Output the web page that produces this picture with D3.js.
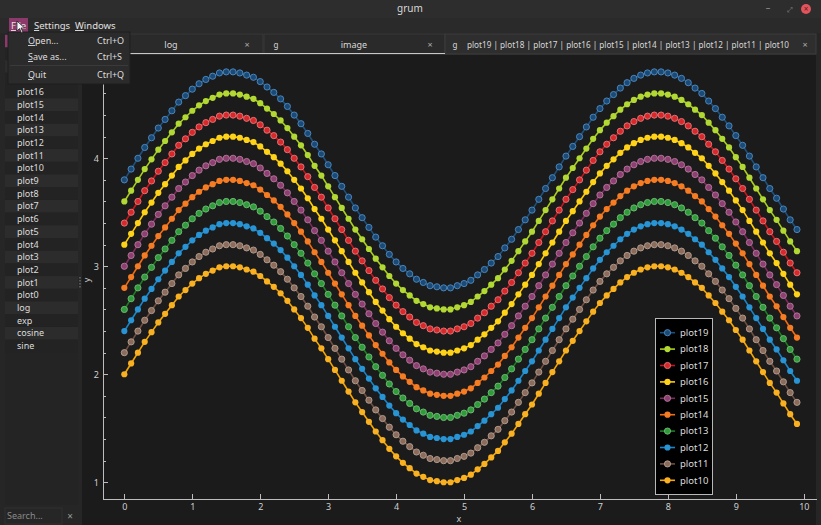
<!DOCTYPE html>
<html lang="en">
<head>
	<meta charset="utf-8">
	<title>grum</title>
	<style type="text/css">
		body {
			margin: 0;
			background: #262626;
			overflow: hidden;
		}
		svg text {
			font-family: "Noto Sans", sans-serif;
		}
		.axis path,
		.axis line {
			stroke: #bdbdbd;
			shape-rendering: crispEdges;
		}
		.axis text {
			font-size: 9px;
			fill: #d0d0d0;
		}
	</style>
</head>
<body>
	<script src="https://cdn.jsdelivr.net/npm/d3@7"></script>
	<script type="text/javascript">

		//Data
		var xValues = [0, 0.1, 0.2, 0.3, 0.4, 0.5, 0.6, 0.7, 0.8, 0.9,
			1, 1.1, 1.2, 1.3, 1.4, 1.5, 1.6, 1.7, 1.8, 1.9,
			2, 2.1, 2.2, 2.3, 2.4, 2.5, 2.6, 2.7, 2.8, 2.9,
			3, 3.1, 3.2, 3.3, 3.4, 3.5, 3.6, 3.7, 3.8, 3.9,
			4, 4.1, 4.2, 4.3, 4.4, 4.5, 4.6, 4.7, 4.8, 4.9,
			5, 5.1, 5.2, 5.3, 5.4, 5.5, 5.6, 5.7, 5.8, 5.9,
			6, 6.1, 6.2, 6.3, 6.4, 6.5, 6.6, 6.7, 6.8, 6.9,
			7, 7.1, 7.2, 7.3, 7.4, 7.5, 7.6, 7.7, 7.8, 7.9,
			8, 8.1, 8.2, 8.3, 8.4, 8.5, 8.6, 8.7, 8.8, 8.9,
			9, 9.1, 9.2, 9.3, 9.4, 9.5, 9.6, 9.7, 9.8, 9.9];

		//plot10 (lowest curve)
		var plot10 = [2.00, 2.10, 2.20, 2.30, 2.39, 2.48, 2.56, 2.64, 2.72, 2.78,
			2.84, 2.89, 2.93, 2.96, 2.99, 3.00, 3.00, 2.99, 2.97, 2.95,
			2.91, 2.86, 2.81, 2.75, 2.68, 2.60, 2.52, 2.43, 2.33, 2.24,
			2.14, 2.04, 1.94, 1.84, 1.74, 1.65, 1.56, 1.47, 1.39, 1.31,
			1.24, 1.18, 1.13, 1.08, 1.05, 1.02, 1.01, 1.00, 1.00, 1.02,
			1.04, 1.07, 1.12, 1.17, 1.23, 1.29, 1.37, 1.45, 1.54, 1.63,
			1.72, 1.82, 1.92, 2.02, 2.12, 2.22, 2.31, 2.40, 2.49, 2.58,
			2.66, 2.73, 2.79, 2.85, 2.90, 2.94, 2.97, 2.99, 3.00, 3.00,
			2.99, 2.97, 2.94, 2.90, 2.85, 2.80, 2.73, 2.66, 2.58, 2.50,
			2.41, 2.32, 2.22, 2.12, 2.02, 1.92, 1.83, 1.73, 1.63, 1.54];

		//Each curve sits above plot10 by this much
		var seriesNames = ["plot19", "plot18", "plot17", "plot16", "plot15",
			"plot14", "plot13", "plot12", "plot11", "plot10"];
		var seriesShift = [1.8, 1.6, 1.4, 1.2, 1.0, 0.8, 0.6, 0.4, 0.2, 0];

		var lineColors   = ["#1d4f7c", "#a9cf1d", "#c4161c", "#ffcc00", "#7b2a5d",
			"#f26a12", "#1b7d22", "#1a84c6", "#6f4f41", "#f5a600"];
		var markerColors = ["#1b4a76", "#b2d833", "#d8282b", "#ffd21a", "#8e3f71",
			"#f67c24", "#2f9b3b", "#2894d4", "#8b6b5b", "#f9b122"];
		var markerStroke = ["#4f8cc4", null, "#e57a7a", null, "#b67a9c",
			null, "#74bb78", null, "#b6a092", null];

		var xTicks = [0, 1, 2, 3, 4, 5, 6, 7, 8, 9, 10];
		var yTicks = [1, 2, 3, 4];
		var yMinorTicks = [1.2, 1.4, 1.6, 1.8, 2.2, 2.4, 2.6, 2.8, 3.2, 3.4, 3.6, 3.8, 4.2, 4.4, 4.6, 4.8];

		//Sidebar entries below the open menu
		var sidebarItems = ["plot16", "plot15", "plot14", "plot13", "plot12", "plot11", "plot10",
			"plot9", "plot8", "plot7", "plot6", "plot5", "plot4", "plot3", "plot2", "plot1",
			"plot0", "log", "exp", "cosine", "sine"];

		var w = 821;
		var h = 525;

		var svg = d3.select("body")
					.append("svg")
					.attr("width", w)
					.attr("height", h);

		svg.append("rect").attr("width", w).attr("height", h).attr("fill", "#262626");

		//Title bar
		svg.append("rect").attr("width", w).attr("height", 18).attr("fill", "#2d2d2d");
		svg.append("text").attr("x", 410).attr("y", 12).attr("text-anchor", "middle")
			.attr("font-size", "10px").attr("fill", "#d8d8d8").text("grum");
		svg.append("text").attr("x", 768).attr("y", 11).attr("text-anchor", "middle")
			.attr("font-size", "9px").attr("fill", "#999").text("–");
		svg.append("text").attr("x", 790).attr("y", 12).attr("text-anchor", "middle")
			.attr("font-size", "7px").attr("fill", "#888").text("⤢");
		svg.append("circle").attr("cx", 806).attr("cy", 9).attr("r", 5).attr("fill", "#e2545c");
		svg.append("text").attr("x", 806).attr("y", 12).attr("text-anchor", "middle")
			.attr("font-size", "8px").attr("fill", "#5a1a1e").text("×");

		//Menu bar
		svg.append("rect").attr("y", 18).attr("width", w).attr("height", 15).attr("fill", "#2a2a2a");
		svg.append("rect").attr("x", 9).attr("y", 18).attr("width", 19).attr("height", 15).attr("fill", "#8c3a6c");
		var menuItems = [["File", 11], ["Settings", 34], ["Windows", 75]];
		menuItems.forEach(function(m) {
			var t = svg.append("text").attr("x", m[1]).attr("y", 29)
				.attr("font-size", "9.5px").attr("fill", "#e0e0e0");
			t.append("tspan").attr("text-decoration", "underline").text(m[0].charAt(0));
			t.append("tspan").text(m[0].slice(1));
		});

		//Tabs
		svg.append("rect").attr("x", 80).attr("y", 34).attr("width", 183).attr("height", 20)
			.attr("fill", "#2a2a2a").attr("stroke", "#383838");
		svg.append("rect").attr("x", 264).attr("y", 34).attr("width", 181).attr("height", 20)
			.attr("fill", "#2a2a2a").attr("stroke", "#383838");
		svg.append("rect").attr("x", 445).attr("y", 34).attr("width", 371).attr("height", 20)
			.attr("fill", "#2e2e2e").attr("stroke", "#3c3c3c");
		svg.append("line").attr("x1", 80).attr("x2", 445).attr("y1", 53.5).attr("y2", 53.5)
			.attr("stroke", "#c8c8c8").attr("stroke-width", 1);
		var tabText = [["log", 171, "middle"], ["image", 354, "middle"], ["g", 276, "middle"], ["g", 455, "middle"],
			["×", 247, "middle"], ["×", 430, "middle"], ["×", 805, "middle"]];
		tabText.forEach(function(t) {
			svg.append("text").attr("x", t[1]).attr("y", 48).attr("text-anchor", t[2])
				.attr("font-size", t[0] == "g" ? "8px" : "9px")
				.attr("fill", t[0] == "×" ? "#aaa" : "#d8d8d8").text(t[0]);
		});
		svg.append("text").attr("x", 467).attr("y", 48)
			.attr("font-size", "8.5px").attr("fill", "#d8d8d8")
			.attr("textLength", 322).attr("lengthAdjust", "spacingAndGlyphs")
			.text(seriesNames.join(" | "));

		//Sidebar list
		svg.append("rect").attr("x", 5).attr("y", 35).attr("width", 73).attr("height", 470).attr("fill", "#242424");
		var rowH = 12.7;
		var rowTop = 85.6;
		//rows hidden behind the menu: selected (magenta) row and three more
		[0, 1, 2, 3].forEach(function(i) {
			svg.append("rect").attr("x", 5).attr("y", rowTop - (4 - i) * rowH).attr("width", 73).attr("height", rowH)
				.attr("fill", i == 0 ? "#8c3a6c" : (i % 2 == 0 ? "#2c2c2c" : "#232323"));
		});
		svg.selectAll("rect.row")
			.data(sidebarItems)
			.enter()
			.append("rect")
			.attr("class", "row")
			.attr("x", 5)
			.attr("y", function(d, i) { return rowTop + i * rowH; })
			.attr("width", 73)
			.attr("height", rowH)
			.attr("fill", function(d, i) { return i % 2 == 1 ? "#2c2c2c" : "#232323"; });
		svg.selectAll("text.row")
			.data(sidebarItems)
			.enter()
			.append("text")
			.attr("class", "row")
			.attr("x", 17)
			.attr("y", function(d, i) { return rowTop + i * rowH + 9.5; })
			.attr("font-size", "9px")
			.attr("fill", "#dcdcdc")
			.text(function(d) { return d; });

		//Splitter handle
		[277, 280, 283, 286].forEach(function(y) {
			svg.append("rect").attr("x", 79.5).attr("y", y).attr("width", 1).attr("height", 1.5).attr("fill", "#888");
		});

		//Search box
		svg.append("rect").attr("x", 5).attr("y", 508).attr("width", 57).attr("height", 16).attr("fill", "#262626")
			.attr("stroke", "#303030");
		svg.append("text").attr("x", 7).attr("y", 519).attr("font-size", "9px").attr("fill", "#8a8a8a").text("Search...");
		svg.append("text").attr("x", 70).attr("y", 520).attr("text-anchor", "middle")
			.attr("font-size", "10px").attr("fill", "#999").text("×");

		//Plot area
		svg.append("rect").attr("x", 82).attr("y", 55).attr("width", 734).attr("height", 470).attr("fill", "#1b1b1b");

		var xScale = d3.scaleLinear()
						.domain([-0.314, 10.18])
						.range([103, 816]);

		var yScale = d3.scaleLinear()
						.domain([0.845, 4.947])
						.range([499, 56]);

		//Define X axis
		var xAxis = d3.axisBottom()
						.scale(xScale)
						.tickValues(xTicks)
						.tickFormat(d3.format("d"))
						.tickSizeInner(-5)
						.tickSizeOuter(0)
						.tickPadding(5);

		//Define Y axis
		var yAxis = d3.axisLeft()
						.scale(yScale)
						.tickValues(yTicks)
						.tickFormat(d3.format("d"))
						.tickSizeInner(-5)
						.tickSizeOuter(0)
						.tickPadding(4);

		var yMinor = d3.axisLeft()
						.scale(yScale)
						.tickValues(yMinorTicks)
						.tickSizeInner(-3)
						.tickSizeOuter(0)
						.tickFormat("");

		svg.append("g").attr("class", "axis").attr("transform", "translate(0,499)").call(xAxis);
		svg.append("g").attr("class", "axis").attr("transform", "translate(103,0)").call(yAxis);
		svg.append("g").attr("class", "axis").attr("transform", "translate(103,0)").call(yMinor)
			.select(".domain").remove();

		svg.append("text").attr("x", 459).attr("y", 522).attr("text-anchor", "middle")
			.attr("font-size", "9px").attr("fill", "#d0d0d0").text("x");
		svg.append("text").attr("transform", "translate(90,280) rotate(-90)").attr("text-anchor", "middle")
			.attr("font-size", "9px").attr("fill", "#d0d0d0").text("y");

		//Create curves, lowest first
		var line = d3.line()
					.x(function(d) { return xScale(d[0]); })
					.y(function(d) { return yScale(d[1]); });

		d3.range(seriesNames.length - 1, -1, -1).forEach(function(s) {
			var pts = xValues.map(function(x, i) { return [x, plot10[i] + seriesShift[s]]; });
			var g = svg.append("g");
			g.append("path")
				.datum(pts)
				.attr("d", line)
				.attr("fill", "none")
				.attr("stroke", lineColors[s])
				.attr("stroke-width", 1.6);
			g.selectAll("circle")
				.data(pts)
				.enter()
				.append("circle")
				.attr("cx", function(d) { return xScale(d[0]); })
				.attr("cy", function(d) { return yScale(d[1]); })
				.attr("r", 3.1)
				.attr("fill", markerColors[s])
				.attr("stroke", markerStroke[s] || "none")
				.attr("stroke-width", 0.9);
		});

		//Legend
		svg.append("rect").attr("x", 655.5).attr("y", 318.5).attr("width", 57).attr("height", 176)
			.attr("fill", "#000").attr("stroke", "#b8b8b8");
		var legend = svg.selectAll("g.legend")
			.data(seriesNames)
			.enter()
			.append("g")
			.attr("class", "legend")
			.attr("transform", function(d, i) { return "translate(0," + (332.7 + i * 16.4) + ")"; });
		legend.append("line")
			.attr("x1", 660).attr("x2", 675)
			.attr("stroke", function(d, i) { return lineColors[i]; })
			.attr("stroke-width", 1.6);
		legend.append("circle")
			.attr("cx", 667.5).attr("r", 3.1)
			.attr("fill", function(d, i) { return markerColors[i]; })
			.attr("stroke", function(d, i) { return markerStroke[i] || "none"; })
			.attr("stroke-width", 0.9);
		legend.append("text")
			.attr("x", 680).attr("y", 3.3)
			.attr("font-size", "9.5px")
			.attr("fill", "#dcdcdc")
			.text(function(d) { return d; });

		//Open File menu
		svg.append("rect").attr("x", 8).attr("y", 32).attr("width", 122).attr("height", 52)
			.attr("fill", "#2b2b2b").attr("stroke", "#1e1e1e");
		svg.append("line").attr("x1", 10).attr("x2", 128).attr("y1", 65.5).attr("y2", 65.5).attr("stroke", "#3a3a3a");
		var fileMenu = [["Open...", "Ctrl+O", 44], ["Save as...", "Ctrl+S", 60], ["Quit", "Ctrl+Q", 78]];
		fileMenu.forEach(function(m) {
			var t = svg.append("text").attr("x", 28).attr("y", m[2]).attr("font-size", "9px").attr("fill", "#dedede");
			t.append("tspan").attr("text-decoration", "underline").text(m[0].charAt(0));
			t.append("tspan").text(m[0].slice(1));
			svg.append("text").attr("x", 97).attr("y", m[2]).attr("font-size", "9px").attr("fill", "#dedede").text(m[1]);
		});

		//Mouse pointer
		svg.append("path")
			.attr("d", "M17,21 L17,31 L19.5,28.5 L21.5,33 L23,32.3 L21,28 L24.5,28 Z")
			.attr("fill", "#f4f4f4").attr("stroke", "#111").attr("stroke-width", 0.7);

	</script>
</body>
</html>
